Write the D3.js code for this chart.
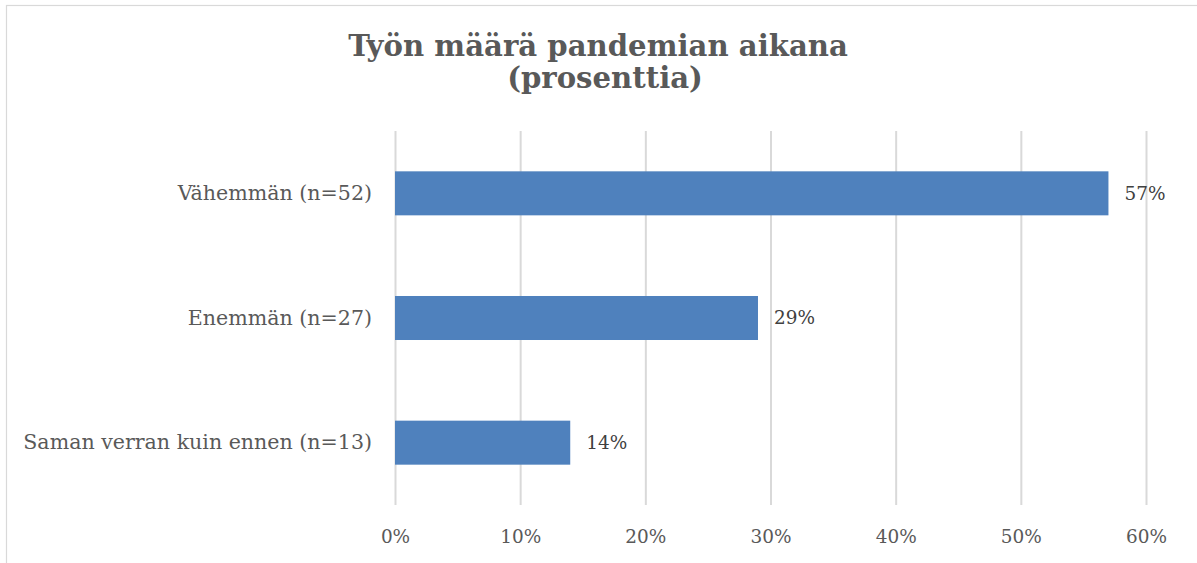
<!DOCTYPE html>
<html>
<head>
<meta charset="utf-8">
<script src="https://cdn.jsdelivr.net/npm/d3@7"></script>
<style>
  html, body { margin: 0; padding: 0; background: #ffffff; }
  svg { display: block; }
</style>
</head>
<body>
<script>
const titleLines = ["Työn määrä pandemian aikana", "(prosenttia)"];
const categories = ["Vähemmän (n=52)", "Enemmän (n=27)", "Saman verran kuin ennen (n=13)"];
const values = [57, 29, 14];
const tickValues = [0, 10, 20, 30, 40, 50, 60];

const W = 1197, H = 563;
const FONT = "'DejaVu Serif', Georgia, serif";
const svg = d3.select("body").append("svg").attr("width", W).attr("height", H);

// chart border (right/bottom edges lie outside the picture)
svg.append("rect")
  .attr("x", 6.5).attr("y", 5.5)
  .attr("width", W + 20).attr("height", H + 20)
  .attr("fill", "#fff").attr("stroke", "#d9d9d9").attr("stroke-width", 1.2);

const plot = { left: 395, right: 1146, top: 131, bottom: 505 };

const x = d3.scaleLinear().domain([0, 60]).range([plot.left, plot.right]);
const y = d3.scaleBand().domain(categories).range([plot.top, plot.bottom]).paddingInner(0.647).paddingOuter(0.3235);

// fit helper: set font-size so text reaches a target width
function fit(sel, target, base) {
  sel.attr("font-size", base);
  const L = sel.node().getComputedTextLength();
  const s = base * target / L;
  sel.attr("font-size", s);
  return s;
}

// gridlines
const xAxis = d3.axisBottom(x).tickValues(tickValues).tickSize(-(plot.bottom - plot.top)).tickFormat(d => d + "%").tickPadding(0);
const gx = svg.append("g").attr("transform", `translate(0,${plot.bottom})`).call(xAxis);
gx.select(".domain").remove();
gx.selectAll(".tick line").attr("stroke", "#d9d9d9").attr("stroke-width", 2);
const tickTexts = gx.selectAll(".tick text")
  .attr("font-family", FONT).attr("fill", "#595959")
  .attr("dy", null).attr("y", 38);
// fit size using "10%" label (~43px wide)
let tickSize = 18;
tickTexts.each(function(d) { if (d === 10) tickSize = fit(d3.select(this), 41, 18); });
tickTexts.attr("font-size", tickSize);

// bars
svg.append("g").selectAll("rect").data(values).join("rect")
  .attr("x", x(0))
  .attr("y", (d, i) => y(categories[i]))
  .attr("width", d => x(d) - x(0))
  .attr("height", y.bandwidth())
  .attr("fill", "#4f81bd");

// category labels
const yAxis = d3.axisLeft(y).tickSize(0).tickPadding(23);
const gy = svg.append("g").attr("transform", `translate(${plot.left},0)`).call(yAxis);
gy.select(".domain").remove();
const catTexts = gy.selectAll(".tick text").attr("font-family", FONT).attr("fill", "#595959");
let catSize = 18;
catTexts.each(function(d) { if (d === categories[2]) catSize = fit(d3.select(this), 349, 18); });
catTexts.attr("font-size", catSize);

// value labels
svg.append("g").selectAll("text").data(values).join("text")
  .attr("x", d => x(d) + 16)
  .attr("y", (d, i) => y(categories[i]) + y.bandwidth() / 2)
  .attr("dy", "0.35em")
  .attr("font-family", FONT).attr("font-size", tickSize)
  .attr("fill", "#404040")
  .text(d => d + "%");

// title
const t1 = svg.append("text").attr("x", 598).attr("y", 56).attr("text-anchor", "middle")
  .attr("font-family", FONT).attr("font-weight", "bold").attr("fill", "#595959").text(titleLines[0]);
const titleSize = fit(t1, 500, 28);
svg.append("text").attr("x", 605).attr("y", 88).attr("text-anchor", "middle")
  .attr("font-family", FONT).attr("font-weight", "bold").attr("fill", "#595959")
  .attr("font-size", titleSize).text(titleLines[1]);
</script>
</body>
</html>
